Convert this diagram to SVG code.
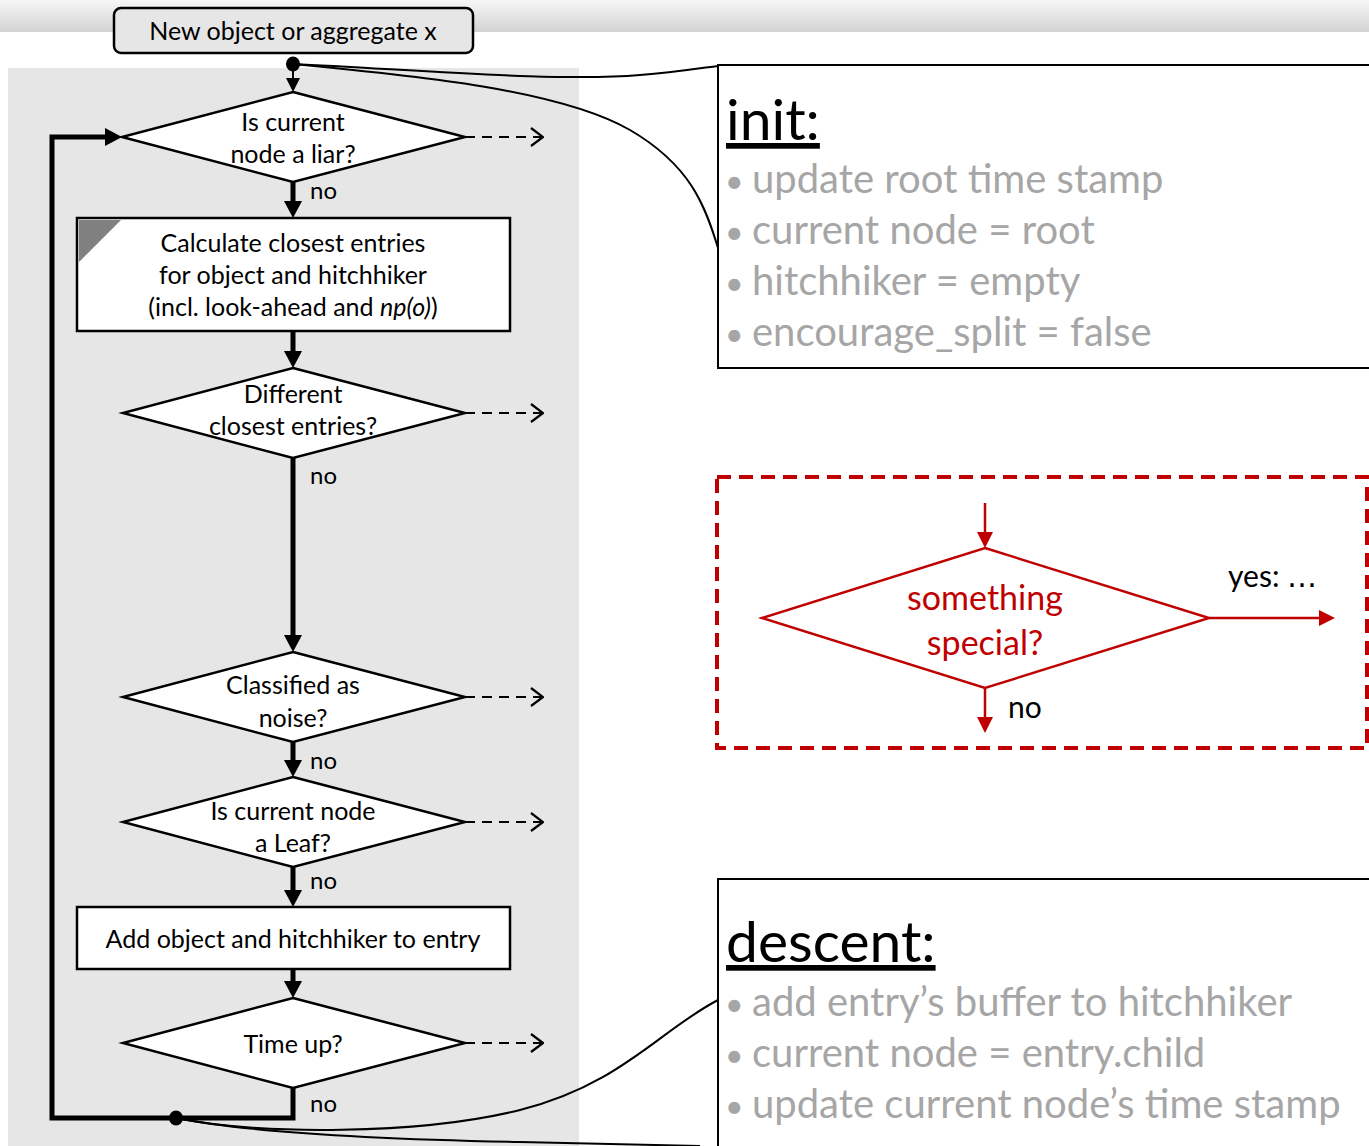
<svg xmlns="http://www.w3.org/2000/svg" width="1369" height="1146" viewBox="0 0 1369 1146">
  <defs>
    <linearGradient id="topband" x1="0" y1="0" x2="0" y2="1">
      <stop offset="0" stop-color="#f6f6f6"/>
      <stop offset="1" stop-color="#d2d2d2"/>
    </linearGradient>
    <marker id="headThick" viewBox="0 0 17 18" markerWidth="17" markerHeight="18" refX="0" refY="9" orient="auto" markerUnits="userSpaceOnUse">
      <path d="M0,0 L17,9 L0,18 z" fill="#000"/>
    </marker>
    <marker id="headThin" viewBox="0 0 14 14" markerWidth="14" markerHeight="14" refX="0" refY="7" orient="auto" markerUnits="userSpaceOnUse">
      <path d="M0,0 L14,7 L0,14 z" fill="#000"/>
    </marker>
    <marker id="headOpen" viewBox="0 0 14 20" markerWidth="14" markerHeight="20" refX="13" refY="10" orient="auto" markerUnits="userSpaceOnUse">
      <path d="M1,1 L13,10 L1,19" fill="none" stroke="#000" stroke-width="2.2"/>
    </marker>
    <marker id="headRed" viewBox="0 0 16 16" markerWidth="16" markerHeight="16" refX="0" refY="8" orient="auto" markerUnits="userSpaceOnUse">
      <path d="M0,0 L16,8 L0,16 z" fill="#c00000"/>
    </marker>
  </defs>
  <style>
    text { font-family: Lato, "Open Sans", "Liberation Sans", sans-serif; }
    .flow { font-size: 25px; fill: #000; text-anchor: middle; }
    .lbl { font-size: 24px; fill: #000; }
    .shape { fill: #fff; stroke: #000; stroke-width: 2.5; }
    .thick { stroke: #000; stroke-width: 5; fill: none; }
    .thin { stroke: #000; stroke-width: 2; fill: none; }
    .dash { stroke: #000; stroke-width: 2.2; fill: none; stroke-dasharray: 10 7; }
    .note { fill: #fff; stroke: #000; stroke-width: 2; }
    .head { font-size: 57px; fill: #000; text-decoration: underline; }
    .bullet { font-size: 40px; fill: #a6a6a6; }
    .dot { font-size: 32px; }
    .red { stroke: #c00000; stroke-width: 2.5; fill: none; }
  </style>

  <!-- background -->
  <rect x="0" y="0" width="1369" height="1146" fill="#fff"/>
  <rect x="0" y="0" width="1369" height="32" fill="url(#topband)"/>
  <rect x="8" y="68" width="571" height="1078" fill="#e6e6e6"/>

  <!-- connectors -->
  <g id="connectors">
    <!-- callout curves -->
    <path class="thin" d="M293,64 C420,70 560,82 640,75 C680,72 700,68 718,66"/>
    <path class="thin" d="M293,64 C420,76 560,90 630,130 C690,165 705,205 718,248"/>
    <path class="thin" d="M176,1118 C260,1135 420,1135 520,1110 C620,1085 660,1030 718,1000"/>
    <path class="thin" d="M176,1118 C260,1135 420,1140 520,1142 C600,1144 650,1145 700,1146"/>

    <!-- main flow -->
    <line class="thin" x1="293" y1="64" x2="293" y2="78" marker-end="url(#headThin)"/>
    <line class="thick" x1="293" y1="182" x2="293" y2="201" marker-end="url(#headThick)"/>
    <line class="thick" x1="293" y1="331" x2="293" y2="351" marker-end="url(#headThick)"/>
    <line class="thick" x1="293" y1="458" x2="293" y2="635" marker-end="url(#headThick)"/>
    <line class="thick" x1="293" y1="742" x2="293" y2="760" marker-end="url(#headThick)"/>
    <line class="thick" x1="293" y1="867" x2="293" y2="890" marker-end="url(#headThick)"/>
    <line class="thick" x1="293" y1="969" x2="293" y2="981" marker-end="url(#headThick)"/>
    <!-- loop back to the first test -->
    <path class="thick" d="M293,1088 L293,1118 L52,1118 L52,137 L105,137" marker-end="url(#headThick)"/>

    <!-- yes branches -->
    <line class="dash" x1="465" y1="137" x2="543" y2="137" marker-end="url(#headOpen)"/>
    <line class="dash" x1="465" y1="413" x2="543" y2="413" marker-end="url(#headOpen)"/>
    <line class="dash" x1="465" y1="697" x2="543" y2="697" marker-end="url(#headOpen)"/>
    <line class="dash" x1="465" y1="822" x2="543" y2="822" marker-end="url(#headOpen)"/>
    <line class="dash" x1="465" y1="1043" x2="543" y2="1043" marker-end="url(#headOpen)"/>

    <ellipse cx="293" cy="64" rx="7" ry="7.5" fill="#000"/>
    <ellipse cx="176" cy="1118" rx="7" ry="7.5" fill="#000"/>

    <text class="lbl" x="310" y="199">no</text>
    <text class="lbl" x="310" y="484">no</text>
    <text class="lbl" x="310" y="769">no</text>
    <text class="lbl" x="310" y="889">no</text>
    <text class="lbl" x="310" y="1112">no</text>
  </g>

  <g id="start">
    <rect x="114" y="8" width="359" height="45" rx="7" fill="#e6e6e6" stroke="#000" stroke-width="2.5"/>
    <text class="flow" x="293" y="40">New object or aggregate x</text>
  </g>

  <g id="liar">
    <polygon class="shape" points="293,92 465,137 293,182 122,137"/>
    <text class="flow" x="293" y="131">Is current</text>
    <text class="flow" x="293" y="163">node a liar?</text>
  </g>

  <g id="closest">
    <rect class="shape" x="77" y="218" width="433" height="113"/>
    <polygon points="79,220 121,220 79,262" fill="#808080"/>
    <text class="flow" x="293" y="252">Calculate closest entries</text>
    <text class="flow" x="293" y="284">for object and hitchhiker</text>
    <text class="flow" x="293" y="316">(incl. look-ahead and <tspan font-style="italic">np(o)</tspan>)</text>
  </g>

  <g id="different">
    <polygon class="shape" points="293,368 465,413 293,458 123,413"/>
    <text class="flow" x="293" y="403">Different</text>
    <text class="flow" x="293" y="435">closest entries?</text>
  </g>

  <g id="noise">
    <polygon class="shape" points="293,652 465,697 293,742 123,697"/>
    <text class="flow" x="293" y="694">Classified as</text>
    <text class="flow" x="293" y="727">noise?</text>
  </g>

  <g id="leaf">
    <polygon class="shape" points="293,777 465,822 293,867 123,822"/>
    <text class="flow" x="293" y="820">Is current node</text>
    <text class="flow" x="293" y="852">a Leaf?</text>
  </g>

  <g id="add">
    <rect class="shape" x="77" y="907" width="433" height="62"/>
    <text class="flow" x="293" y="948">Add object and hitchhiker to entry</text>
  </g>

  <g id="timeup">
    <polygon class="shape" points="293,998 465,1043 293,1088 123,1043"/>
    <text class="flow" x="293" y="1053">Time up?</text>
  </g>

  <g id="init">
    <rect class="note" x="718" y="65" width="660" height="303"/>
    <text class="head" x="726" y="140">init:</text>
    <text class="bullet" x="725" y="193"><tspan class="dot">•</tspan><tspan x="752">update root time stamp</tspan></text>
    <text class="bullet" x="725" y="244"><tspan class="dot">•</tspan><tspan x="752">current node = root</tspan></text>
    <text class="bullet" x="725" y="295"><tspan class="dot">•</tspan><tspan x="752">hitchhiker = empty</tspan></text>
    <text class="bullet" x="725" y="346"><tspan class="dot">•</tspan><tspan x="752">encourage_split = false</tspan></text>
  </g>

  <g id="special">
    <rect x="717" y="477" width="650" height="271" fill="none" stroke="#c00000" stroke-width="4" stroke-dasharray="14 8"/>
    <line class="red" x1="985" y1="503" x2="985" y2="532" marker-end="url(#headRed)"/>
    <polygon class="red" points="985,548 1209,618 985,688 762,618"/>
    <line class="red" x1="1209" y1="618" x2="1319" y2="618" marker-end="url(#headRed)"/>
    <line class="red" x1="985" y1="688" x2="985" y2="717" marker-end="url(#headRed)"/>
    <text x="985" y="610" font-size="34" fill="#c00000" text-anchor="middle">something</text>
    <text x="985" y="655" font-size="34" fill="#c00000" text-anchor="middle">special?</text>
    <text x="1228" y="587" font-size="30" fill="#000">yes: <tspan font-family="'DejaVu Sans', sans-serif">…</tspan></text>
    <text x="1008" y="718" font-size="30" fill="#000">no</text>
  </g>

  <g id="descent">
    <rect class="note" x="718" y="879" width="660" height="280"/>
    <text class="head" x="726" y="962">descent:</text>
    <text class="bullet" x="725" y="1016"><tspan class="dot">•</tspan><tspan x="752">add entry’s buffer to hitchhiker</tspan></text>
    <text class="bullet" x="725" y="1067"><tspan class="dot">•</tspan><tspan x="752">current node = entry.child</tspan></text>
    <text class="bullet" x="725" y="1118"><tspan class="dot">•</tspan><tspan x="752">update current node’s time stamp</tspan></text>
  </g>
</svg>
